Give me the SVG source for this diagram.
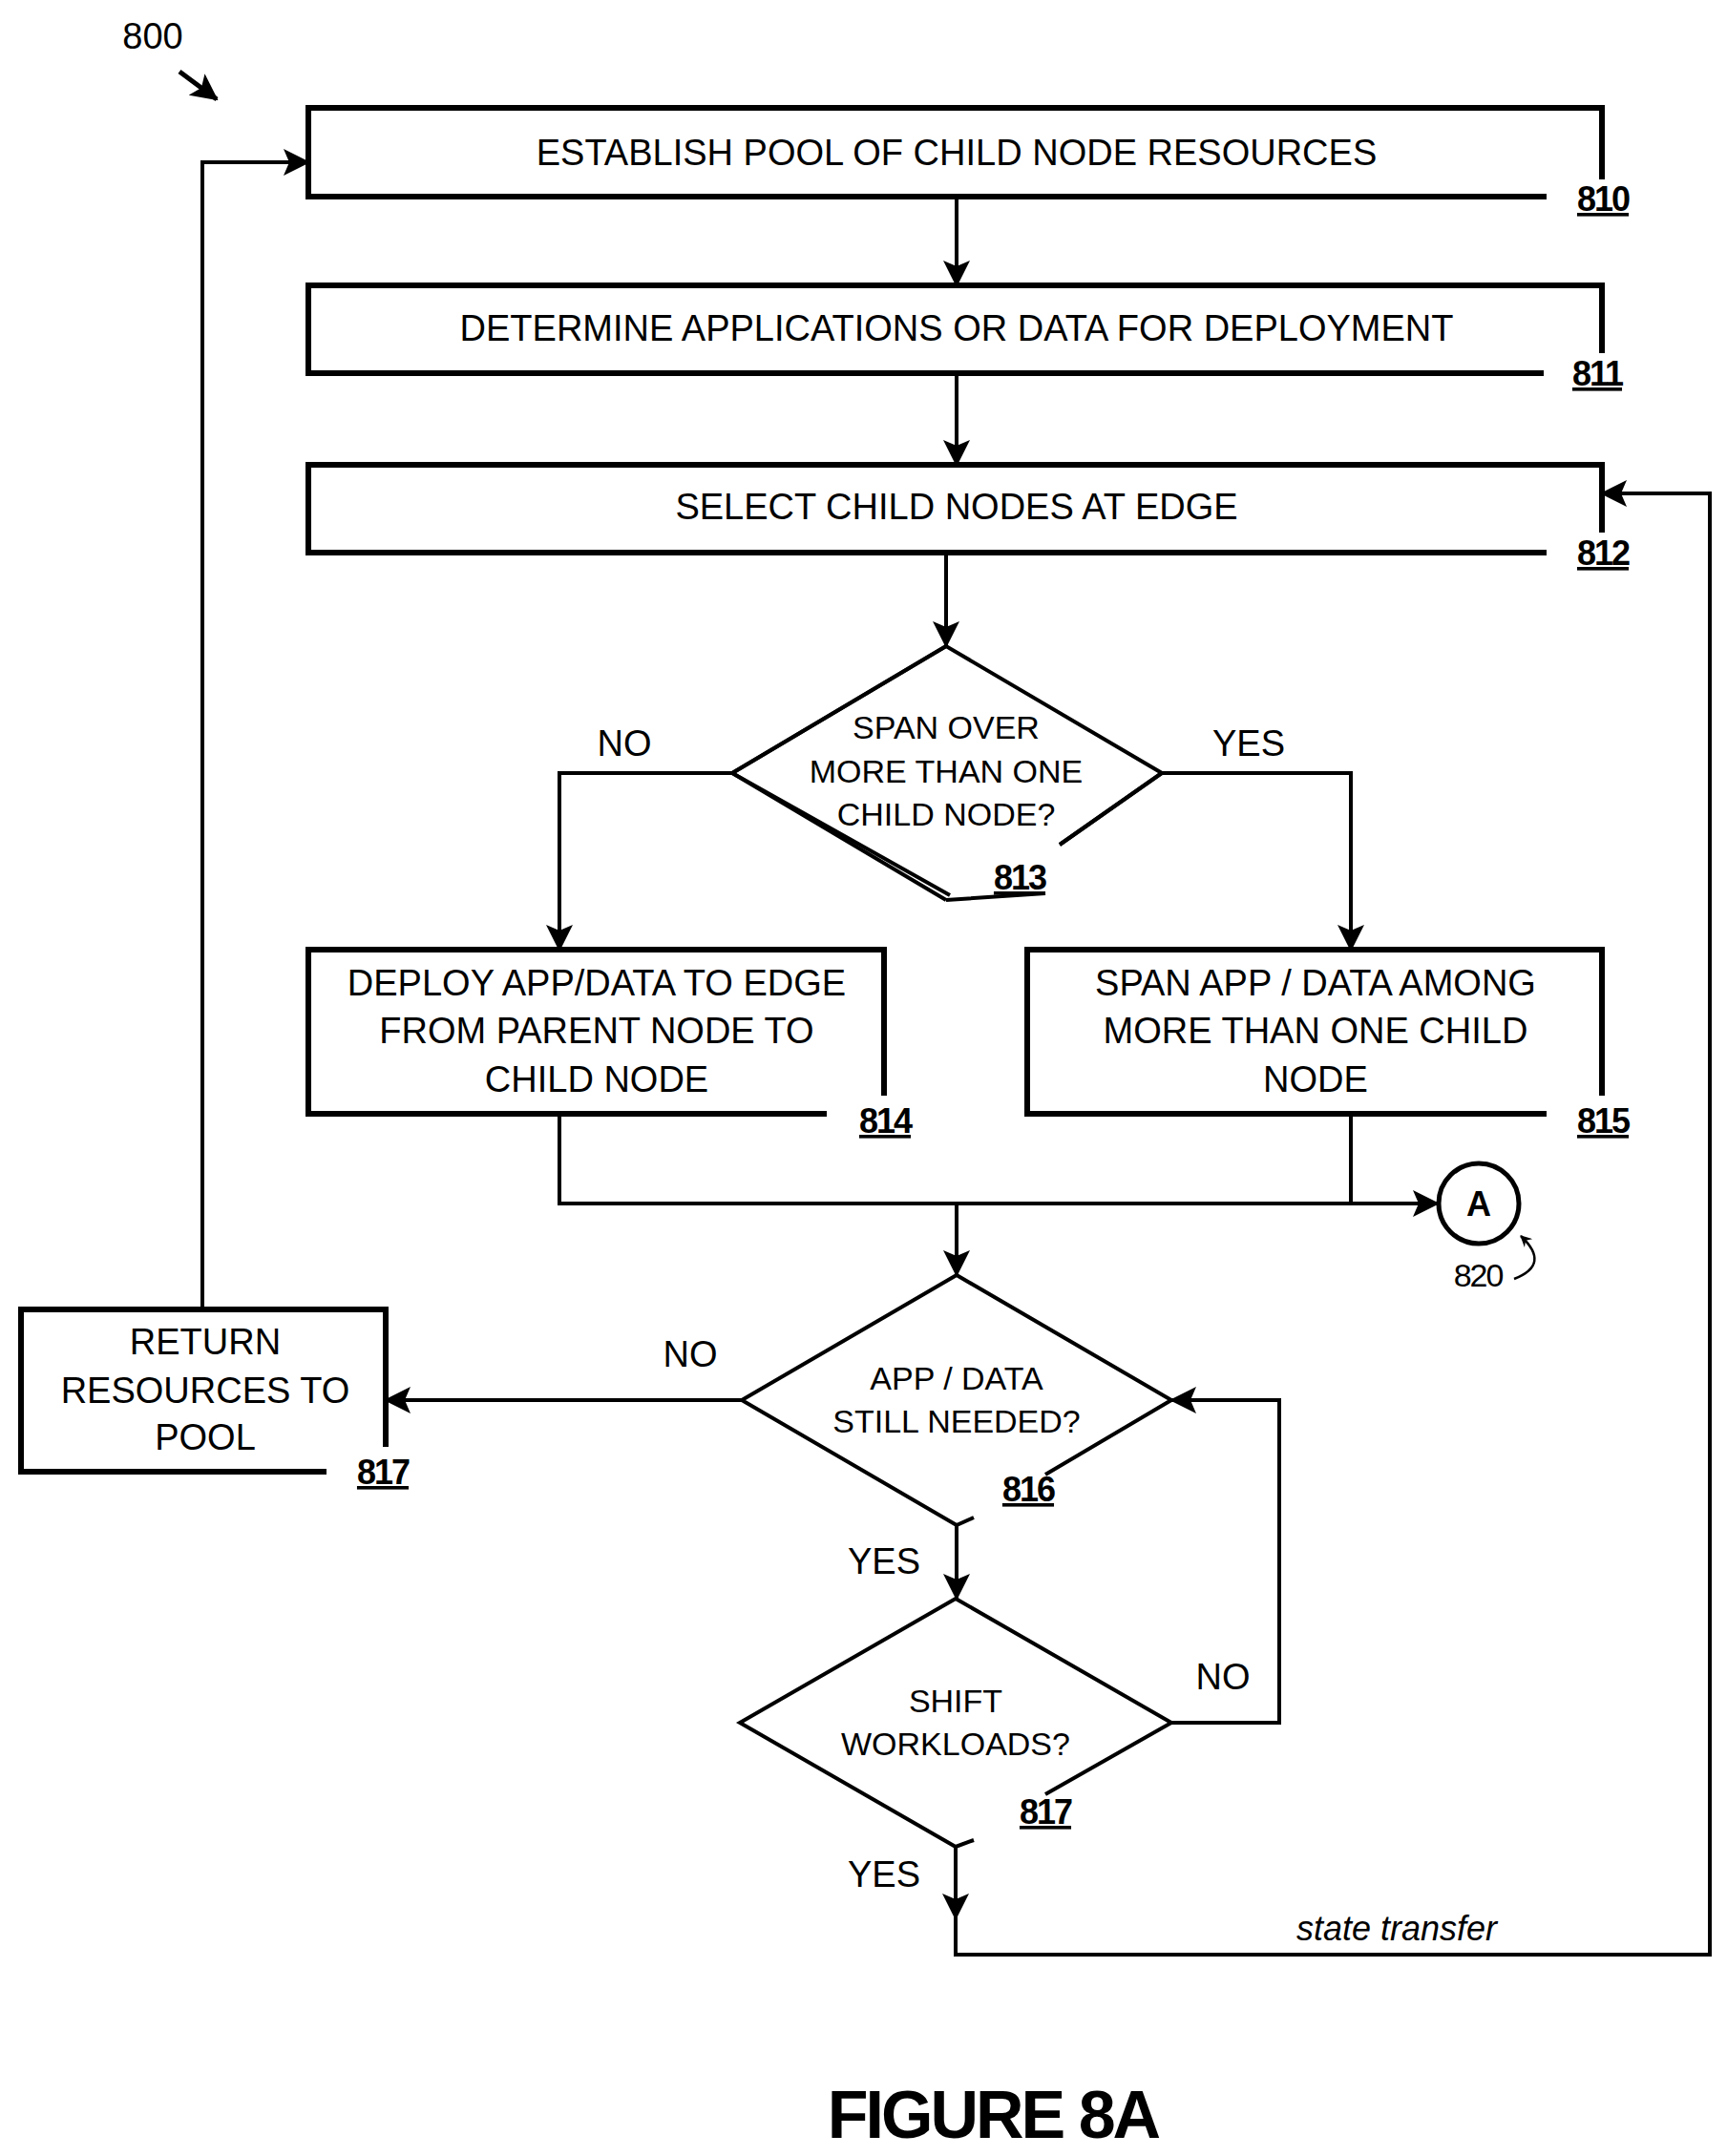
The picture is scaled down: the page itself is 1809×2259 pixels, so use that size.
<svg xmlns="http://www.w3.org/2000/svg" width="1809" height="2259" viewBox="0 0 1809 2259">
<defs>
<marker id="ah" markerWidth="12" markerHeight="12" refX="11" refY="6" orient="auto" markerUnits="userSpaceOnUse" viewBox="0 0 12 12">
<path d="M0,0 L12,6 L0,12 L4,6 Z" fill="#000"/>
</marker>
<marker id="ahb" markerWidth="28" markerHeight="28" refX="26" refY="14" orient="auto" markerUnits="userSpaceOnUse" viewBox="0 0 28 28">
<path d="M0,0 L28,14 L0,28 L6,14 Z" fill="#000"/>
</marker>
<style>
text{font-family:"Liberation Sans",Arial,sans-serif;fill:#000}
.t{font-size:38px;text-anchor:middle}
.d{font-size:34px;text-anchor:middle}
.l{font-size:36px;text-anchor:middle;text-decoration:underline;font-weight:bold;letter-spacing:-2px}
.b{fill:none;stroke:#000;stroke-width:6}
.c{fill:none;stroke:#000;stroke-width:4}
.dm{fill:none;stroke:#000;stroke-width:4}
</style>
</defs>
<g id="label800"><text x="160" y="51" style="font-size:38px" text-anchor="middle">800</text>
<line x1="188" y1="75" x2="227" y2="104" stroke="#000" stroke-width="5" marker-end="url(#ahb)"/></g>

<g id="n810"><path class="b" d="M1678,188 V113 H323 V206 H1620"/><text class="t" x="1002" y="173">ESTABLISH POOL OF CHILD NODE RESOURCES</text><text class="l" x="1679" y="221">810</text></g>
<g id="n811"><path class="b" d="M1678,370 V299 H323 V391 H1617"/><text class="t" x="1002" y="357">DETERMINE APPLICATIONS OR DATA FOR DEPLOYMENT</text><text class="l" x="1673" y="404">811</text></g>
<g id="n812"><path class="b" d="M1678,558 V487 H323 V579 H1620"/><text class="t" x="1002" y="544">SELECT CHILD NODES AT EDGE</text><text class="l" x="1679" y="592">812</text></g>

<g id="n813"><path class="dm" d="M1095,936 L991,943 M995,938 L767,810 L991,677 L1217,810 L1110,885"/>
<path class="dm" d="M1110,885 L1217,810 M991,677 L767,810 L991,943"/>
<text class="d" x="991" y="774">SPAN OVER</text><text class="d" x="991" y="820">MORE THAN ONE</text><text class="d" x="991" y="865">CHILD NODE?</text><text class="l" x="1068" y="932">813</text></g>

<g id="n814"><path class="b" d="M926,1148 V995 H323 V1167 H866"/><text class="t" x="625" y="1043">DEPLOY APP/DATA TO EDGE</text><text class="t" x="625" y="1093">FROM PARENT NODE TO</text><text class="t" x="625" y="1144">CHILD NODE</text><text class="l" x="927" y="1187">814</text></g>
<g id="n815"><path class="b" d="M1678,1148 V995 H1076 V1167 H1620"/><text class="t" x="1378" y="1043">SPAN APP / DATA AMONG</text><text class="t" x="1378" y="1093">MORE THAN ONE CHILD</text><text class="t" x="1378" y="1144">NODE</text><text class="l" x="1679" y="1187">815</text></g>

<g id="n820"><circle cx="1549" cy="1261" r="42" fill="none" stroke="#000" stroke-width="5"/><text x="1549" y="1274" style="font-size:36px;font-weight:bold" text-anchor="middle">A</text>
<text class="d" x="1548" y="1348" style="letter-spacing:-2px">820</text>
<path d="M1586,1340 Q1625,1325 1593,1295" fill="none" stroke="#000" stroke-width="2.5" marker-end="url(#ah)"/></g>

<g id="n816"><path class="dm" d="M1002,1336 L1227,1467 L1095,1545 M1020,1590 L1002,1598 L777,1467 L1002,1336"/>
<text class="d" x="1002" y="1456">APP / DATA</text><text class="d" x="1002" y="1501">STILL NEEDED?</text><text class="l" x="1077" y="1573">816</text></g>

<g id="n817r"><path class="b" d="M404,1516 V1372 H22 V1542 H342"/><text class="t" x="215" y="1419">RETURN</text><text class="t" x="215" y="1470">RESOURCES TO</text><text class="t" x="215" y="1519">POOL</text><text class="l" x="401" y="1555">817</text></g>

<g id="n817s"><path class="dm" d="M1001,1675 L1227,1805 L1095,1880 M1020,1928 L1001,1935 L775,1805 L1001,1675"/>
<text class="d" x="1001" y="1794">SHIFT</text><text class="d" x="1001" y="1839">WORKLOADS?</text><text class="l" x="1095" y="1911">817</text></g>

<g id="connectors">
<line class="c" x1="1002" y1="206" x2="1002" y2="299" marker-end="url(#ahb)"/>
<line class="c" x1="1002" y1="391" x2="1002" y2="487" marker-end="url(#ahb)"/>
<line class="c" x1="991" y1="579" x2="991" y2="677" marker-end="url(#ahb)"/>
<path class="c" d="M767,810 H586 V995" marker-end="url(#ahb)"/>
<path class="c" d="M1217,810 H1415 V995" marker-end="url(#ahb)"/>
<path class="c" d="M586,1167 V1261 H1506" marker-end="url(#ahb)"/>
<line class="c" x1="1415" y1="1167" x2="1415" y2="1261"/>
<line class="c" x1="1002" y1="1261" x2="1002" y2="1336" marker-end="url(#ahb)"/>
<line class="c" x1="777" y1="1467" x2="404" y2="1467" marker-end="url(#ahb)"/>
<path class="c" d="M212,1372 V170 H323" marker-end="url(#ahb)"/>
<line class="c" x1="1002" y1="1598" x2="1002" y2="1675" marker-end="url(#ahb)"/>
<path class="c" d="M1227,1805 H1340 V1467 H1227" marker-end="url(#ahb)"/>
<line class="c" x1="1001" y1="1935" x2="1001" y2="2010" marker-end="url(#ahb)"/>
<path class="c" d="M1001,2005 V2048 H1791 V517 H1678" marker-end="url(#ahb)"/>
<text x="654" y="792" style="font-size:38px" text-anchor="middle">NO</text>
<text x="1308" y="792" style="font-size:38px" text-anchor="middle">YES</text>
<text x="723" y="1432" style="font-size:38px" text-anchor="middle">NO</text>
<text x="926" y="1649" style="font-size:38px" text-anchor="middle">YES</text>
<text x="1281" y="1770" style="font-size:38px" text-anchor="middle">NO</text>
<text x="926" y="1977" style="font-size:38px" text-anchor="middle">YES</text>
<text x="1463" y="2033" style="font-size:36px;font-style:italic" text-anchor="middle">state transfer</text>
</g>
<text x="1040" y="2240" style="font-size:70px;font-weight:bold;letter-spacing:-3px" text-anchor="middle">FIGURE 8A</text>
</svg>
